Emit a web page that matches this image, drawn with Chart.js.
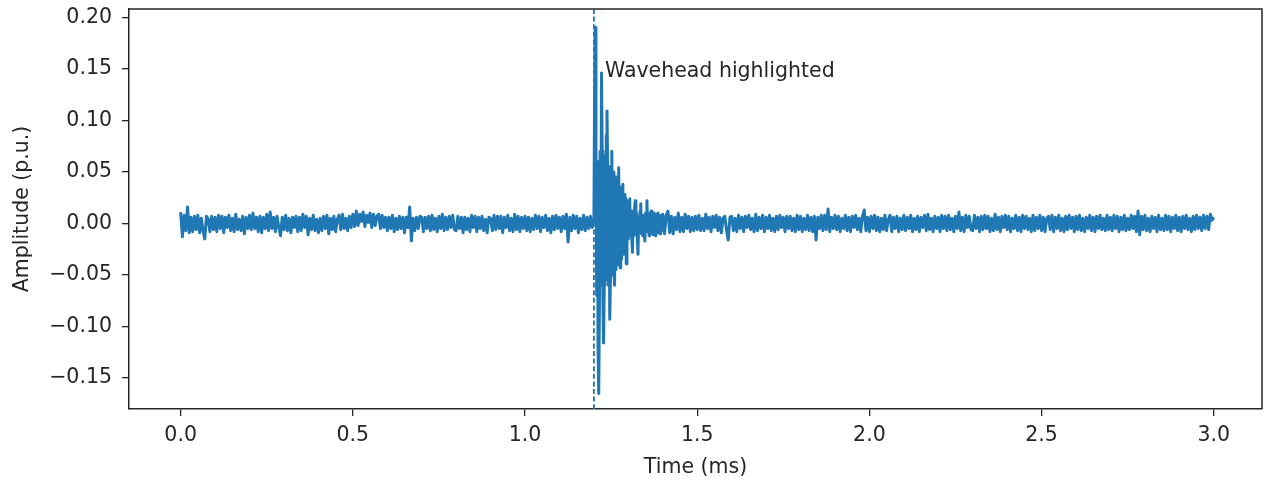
<!DOCTYPE html>
<html><head><meta charset="utf-8">
<script src="https://cdn.jsdelivr.net/npm/chart.js@4.4.0/dist/chart.umd.min.js"></script>
<style>html,body{margin:0;padding:0;background:#fff;overflow:hidden}#wrap{width:1264px;height:481px;position:relative}</style>
</head><body><div id="wrap"><canvas id="c" width="1264" height="481"></canvas></div>
<script>
// ---- data ----
const noiseStep = 0.005;           // sampling step (ms) of the noise segments
const noiseBeforeStart = 0.0;      // ms
const noiseBefore = [
 .011,-.013,.008,-.007,.016,-.009,.006,-.008,.007,-.006,.008,-.009,.005,-.007,-.015,.007,.004,-.008,.007,-.006,
 .006,-.008,.008,-.005,.007,-.009,.006,-.004,.008,-.007,.005,-.008,.009,-.006,.004,-.007,.007,-.010,.006,-.005,
 .008,-.006,.010,-.005,.006,-.008,.007,-.009,.006,-.005,.009,-.007,.011,-.005,.006,-.008,.007,-.004,-.012,.006,
 -.006,.008,-.007,.005,-.009,.006,-.004,.007,-.008,.006,-.007,.009,-.004,.007,-.011,.005,-.006,.008,-.007,.004,
 -.009,.005,-.007,.007,-.005,.008,-.010,.005,-.006,.007,-.008,.004,.008,-.006,.009,-.005,.005,-.007,.007,-.004,
 .009,-.003,.012,-.002,.009,.002,.011,-.003,.008,.001,.010,-.004,.009,-.002,.007,.009,-.005,.008,-.004,.006,
 -.007,.006,-.005,.008,-.008,.005,-.006,.007,-.005,.006,-.009,.006,-.004,.016,-.017,.005,-.007,.006,-.005,.007,
 .006,-.008,.006,-.005,.007,-.007,.008,-.006,.005,-.008,.007,-.005,.009,-.007,.006,-.006,.007,-.004,.008,-.006,
 -.007,.007,-.005,.006,-.009,.006,-.006,.005,-.008,.008,-.004,.007,-.008,.006,-.005,.007,-.007,.004,-.009,.006,
 .005,-.007,.008,-.006,.007,-.005,.007,-.009,.006,-.004,.008,-.007,.005,-.008,.009,-.006,.007,-.008,.006,-.005,
 .007,-.007,.006,-.008,.005,-.006,.008,-.005,.007,-.008,.006,-.004,.008,-.007,.005,-.009,.007,-.006,.008,-.005,
 .006,-.008,.007,-.005,.009,-.018,.006,-.007,.008,-.005,.007,-.009,.005,-.006,.008,-.007,.006,-.005,.007,-.004
];
const waveStart = 1.200, waveStep = 0.002;   // ms
const waveValues = [
 0.004,0.120,0.190,0.080,-0.070,0.060,-0.120,-0.165,-0.080,0.070,
 -0.060,0.146,0.070,-0.070,-0.116,-0.060,0.065,-0.055,0.085,0.109,
 0.050,-0.060,0.055,-0.093,-0.055,0.055,0.070,-0.050,0.050,-0.045,
 -0.060,0.045,-0.045,0.045,-0.040,0.045,0.054,-0.035,-0.043,0.035,
 -0.035,0.030,0.038,-0.030,0.028,-0.028,0.025,-0.039,-0.022,0.022,
 -0.015,0.010,0.024,-0.012,0.012,-0.015,-0.028,0.008,-0.012,0.014,
 0.022,-0.010,0.010,-0.014,-0.030,0.006,-0.008,0.012,0.019,-0.010,
 0.008,-0.012,0.006,-0.010,-0.017,0.010,-0.006,0.022,-0.008,0.010,
 -0.012,0.009,-0.010,0.012,-0.009,0.008,-0.011,0.010,-0.008,0.009,
 -0.012,0.008,-0.007,0.010,-0.009,0.007,-0.010,0.008,-0.007,0.006
];
const noiseAfterStart = 1.400;     // ms
const noiseAfter = [
 .009,-.010,.008,.012,-.009,.007,-.010,.006,-.006,.010,-.008,.006,-.008,.009,-.005,.007,-.008,.006,-.007,.007,
 -.006,.008,-.007,.005,-.007,.009,-.005,.006,-.008,.007,-.004,.008,-.007,.006,-.009,.005,.007,-.006,-.016,.006,
 .007,-.007,.005,-.008,.008,-.005,.006,-.008,.007,-.004,.008,-.006,.005,-.008,.009,-.007,.006,-.005,.008,-.008,
 .006,-.005,.008,-.007,.005,-.008,.007,-.006,.008,-.004,.006,-.008,.007,-.005,.007,-.007,.005,-.008,.008,-.006,
 .007,-.008,.005,-.006,.008,-.007,.006,-.008,.007,-.016,.006,-.005,.008,-.007,.008,-.006,.014,-.008,.006,-.005,
 .008,-.006,.007,-.008,.005,-.005,.008,-.007,.006,-.008,.007,-.004,.008,-.006,.005,-.008,.007,.013,-.007,.006,
 -.008,.007,-.005,.008,-.007,.006,-.008,.005,-.006,.008,-.007,.004,.008,-.008,.006,-.005,.007,-.008,.005,-.006,
 .008,-.007,.006,-.005,.008,-.008,.005,-.006,.007,-.008,.006,-.004,.008,-.007,.009,-.006,.005,-.008,.007,-.005,
 .006,-.008,.008,-.005,.007,-.007,.008,-.006,.005,-.008,.007,-.005,.011,-.007,.006,-.008,.008,-.004,.007,-.006,
 -.007,.008,-.005,.006,-.008,.007,-.006,.008,-.005,.007,-.008,.005,-.007,.009,-.006,.006,-.008,.007,-.004,.008,
 -.006,.007,-.008,.005,-.005,.008,-.007,.006,-.008,.008,-.005,.007,-.006,.005,-.008,.008,-.007,.006,-.005,.008,
 -.007,.006,-.008,.005,.007,-.006,.008,-.008,.006,-.005,.008,-.007,.005,-.008,.007,-.006,.008,-.005,.006,-.008,
 .007,-.006,.008,-.007,.005,-.008,.006,-.005,.008,-.007,.006,-.008,.007,-.005,.008,-.006,.005,-.007,.008,-.006,
 .006,-.007,.008,-.005,.007,-.008,.006,-.006,.008,-.007,.005,-.006,.008,-.005,.007,-.008,.012,-.011,.007,-.006,
 .008,-.007,.005,-.008,.007,-.005,.006,-.008,.008,-.006,.005,-.007,.008,-.006,.007,-.008,.006,-.005,.008,-.007,
 .006,-.008,.007,-.005,.008,-.006,.005,-.008,.007,-.006,.008,-.005,.006,-.007,.008,-.005,.007,-.006,.009,.003,
 .006
];
const xTickValues = [0.0,0.5,1.0,1.5,2.0,2.5,3.0];
const yTickValues = [-0.15,-0.10,-0.05,0.00,0.05,0.10,0.15,0.20];
const wavefrontTime = 1.2;
const annotationText = 'Wavehead highlighted';
const annotationX = 1.232, annotationY = 0.142;
const xTitle = 'Time (ms)', yTitle = 'Amplitude (p.u.)';

// ---- build points ----
const pts = [];
noiseBefore.forEach((v,i)=>pts.push({x:+(noiseBeforeStart+i*noiseStep).toFixed(4), y:v}));
waveValues.forEach((v,i)=>pts.push({x:+(waveStart+i*waveStep).toFixed(4), y:v}));
noiseAfter.forEach((v,i)=>pts.push({x:+(noiseAfterStart+i*noiseStep).toFixed(4), y:v}));

const FONT = {family:'DejaVu Sans', size:20.5};
const TXT = '#262626';
const BLUE = '#1f77b4';

const extras = {
  id:'extras',
  afterDatasetsDraw(chart){
    const {ctx, chartArea:a, scales:{x,y}} = chart;
    ctx.save();
    const px = x.getPixelForValue(wavefrontTime);
    ctx.strokeStyle = BLUE; ctx.lineWidth = 1.8; ctx.setLineDash([5,2.6]);
    ctx.beginPath(); ctx.moveTo(px, a.top); ctx.lineTo(px, a.bottom); ctx.stroke();
    ctx.setLineDash([]);
    ctx.strokeStyle = TXT; ctx.lineWidth = 1.5;
    ctx.beginPath(); ctx.moveTo(a.left, a.top); ctx.lineTo(a.right, a.top); ctx.lineTo(a.right, a.bottom); ctx.stroke();
    ctx.fillStyle = TXT; ctx.font = FONT.size+'px "DejaVu Sans"';
    ctx.textAlign = 'left'; ctx.textBaseline = 'alphabetic';
    ctx.fillText(annotationText, x.getPixelForValue(annotationX), y.getPixelForValue(annotationY));
    ctx.restore();
  }
};

new Chart(document.getElementById('c'), {
  type:'line',
  data:{datasets:[{data:pts, borderColor:BLUE, borderWidth:3, pointRadius:0, tension:0, fill:false, borderJoinStyle:'round'}]},
  options:{
    responsive:false, animation:false, events:[],
    layout:{padding:{top:9, right:2, left:0, bottom:0}},
    plugins:{legend:{display:false}, tooltip:{enabled:false}},
    scales:{
      x:{type:'linear', min:-0.15, max:3.14,
        afterBuildTicks:s=>{s.ticks = xTickValues.map(v=>({value:v}));},
        afterFit:s=>{s.height = 72; s.paddingLeft = 0; s.paddingRight = 0;},
        ticks:{callback:v=>v.toFixed(1), font:FONT, color:TXT, padding:7, maxRotation:0, autoSkip:false},
        grid:{display:true, drawOnChartArea:false, drawTicks:true, tickLength:7, color:TXT, lineWidth:1.3},
        border:{display:true, color:TXT, width:1.5},
        title:{display:true, text:xTitle, font:FONT, color:TXT, padding:{top:0,bottom:1}}
      },
      y:{type:'linear', min:-0.180, max:0.208,
        afterBuildTicks:s=>{s.ticks = yTickValues.map(v=>({value:v}));},
        afterFit:s=>{s.width = 129; s.paddingTop = 0; s.paddingBottom = 0;},
        ticks:{callback:v=>(v<-1e-9?'\u2212':'')+Math.abs(v).toFixed(2), font:FONT, color:TXT, padding:10, autoSkip:false},
        grid:{display:true, drawOnChartArea:false, drawTicks:true, tickLength:7, color:TXT, lineWidth:1.3},
        border:{display:true, color:TXT, width:1.5},
        title:{display:true, text:yTitle, font:FONT, color:TXT, padding:{top:10,bottom:0}}
      }
    }
  },
  plugins:[extras]
});
</script></body></html>
